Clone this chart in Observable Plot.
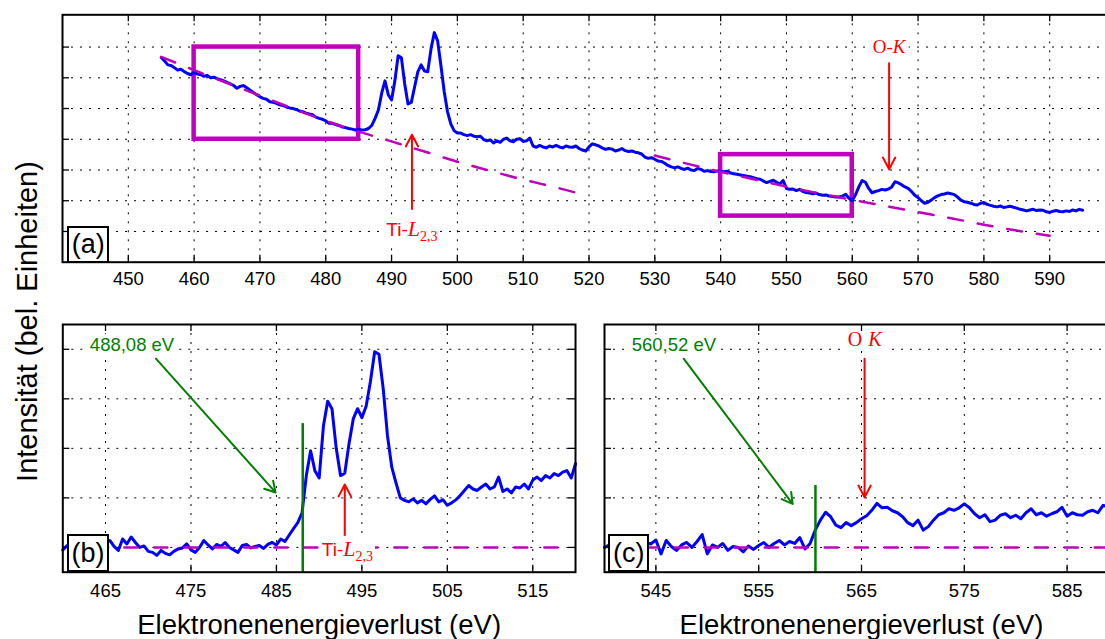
<!DOCTYPE html>
<html><head><meta charset="utf-8">
<script src="https://cdn.jsdelivr.net/npm/d3@7"></script>
<script src="https://cdn.jsdelivr.net/npm/@observablehq/plot@0.6"></script>
<style>
body{margin:0;background:#fff;}
#fig{position:relative;width:1105px;height:639px;overflow:hidden;background:#fff;font-family:"Liberation Sans",Arial,sans-serif;}
#fig svg{position:absolute;max-width:none !important;overflow:visible;background:transparent;}
.plabel{position:absolute;box-sizing:border-box;border:2px solid #000;background:#fff;display:flex;align-items:center;justify-content:center;font-size:27px;line-height:1;color:#000;}
</style>
</head><body><div id="fig"></div>
<script>
// ---------- data ----------
// Panel (a): full spectrum, 455..595 eV, step 0.5 eV
const aStart = 455, aStep = 0.5;
const aVals = [
  6.66,6.55,6.42,6.40,6.33,6.25,6.28,6.20,6.14,6.10, // 455
  6.18,6.12,6.10,6.05,6.08,6.00,6.02,5.97,5.94,5.90, // 460
  5.85,5.80,5.75,5.66,5.72,5.75,5.68,5.60,5.52,5.45, // 465
  5.38,5.33,5.30,5.22,5.20,5.17,5.12,5.10,5.05,5.02, // 470
  5.00,4.97,4.92,4.90,4.85,4.82,4.80,4.72,4.68,4.65, // 475
  4.60,4.52,4.52,4.48,4.45,4.40,4.38,4.35,4.33,4.30, // 480
  4.32,4.30,4.31,4.35,4.45,4.68,4.95,5.50,5.90,5.45, // 485
  5.28,5.90,6.72,6.65,5.80,5.15,5.20,5.70,6.20,6.42, // 490
  6.22,6.20,6.95,7.47,7.20,6.40,5.55,4.90,4.50,4.28, // 495
  4.20,4.20,4.15,4.12,4.15,4.10,4.08,4.10,3.99,3.95, // 500
  3.98,3.88,3.95,3.90,4.00,4.04,3.95,3.92,4.00,4.02, // 505
  3.93,3.95,4.04,3.78,3.74,3.80,3.75,3.72,3.78,3.75, // 510
  3.80,3.75,3.72,3.78,3.75,3.74,3.78,3.70,3.65,3.62, // 515
  3.75,3.85,3.82,3.78,3.72,3.67,3.70,3.68,3.62,3.65, // 520
  3.70,3.63,3.60,3.62,3.58,3.56,3.52,3.42,3.38,3.40, // 525
  3.35,3.29,3.28,3.22,3.15,3.10,3.07,3.10,3.05,3.02, // 530
  3.06,3.00,2.98,3.05,3.02,2.96,2.98,2.95,2.94,2.97, // 535
  2.96,2.94,2.96,2.90,2.88,2.86,2.84,2.82,2.80,2.78, // 540
  2.75,2.72,2.70,2.64,2.59,2.63,2.67,2.60,2.55,2.66, // 545
  2.40,2.37,2.38,2.33,2.37,2.30,2.27,2.25,2.23,2.25, // 550
  2.20,2.18,2.19,2.15,2.14,2.12,2.12,2.15,2.21,2.08, // 555
  2.00,2.20,2.45,2.66,2.60,2.40,2.26,2.30,2.33,2.37, // 560
  2.35,2.38,2.45,2.62,2.58,2.52,2.45,2.40,2.30,2.18, // 565
  2.10,2.00,1.92,1.95,2.02,2.10,2.16,2.20,2.22,2.25, // 570
  2.23,2.20,2.12,2.02,1.97,1.95,1.92,1.88,1.86,1.92, // 575
  1.94,1.88,1.85,1.82,1.80,1.83,1.78,1.80,1.82,1.79, // 580
  1.76,1.72,1.70,1.67,1.70,1.72,1.68,1.70,1.69,1.64, // 585
  1.62,1.66,1.68,1.65,1.64,1.67,1.65,1.70,1.67,1.72, // 590
  1.69                                               // 595
];
// Background fits in panel (a)
const bgTiE = [455,460,465,470,475,480,485,490,495,500,505,510,515,519];
const bgTiV = [6.68,6.25,5.83,5.42,5.00,4.60,4.25,3.93,3.60,3.27,2.97,2.69,2.43,2.21];
const bgOE = [530,535,540,545,550,555,560,565,570,575,580,585,590];
const bgOV = [3.47,3.20,2.94,2.70,2.46,2.24,2.03,1.83,1.63,1.43,1.22,1.03,0.86];
// Highlight windows in panel (a)
const boxE1 = [460, 540], boxE2 = [485, 560], boxV1 = [4, 1.5], boxV2 = [7, 3.5];

// Panel (b): background-subtracted Ti-L2,3, 460..520 eV step 0.5
const bStart = 460, bStep = 0.5;
const bVals = [
  -0.05,0.04,-0.03,0.02,0.06,-0.02,0.03,0.08,0.00,0.05, // 460
  0.10,0.14,0.02,-0.06,0.17,0.07,0.21,0.10,0.00,0.03,   // 465
  -0.08,-0.10,-0.16,-0.06,-0.12,-0.15,-0.08,-0.03,-0.01,0.07, // 470
  -0.05,-0.10,0.00,0.14,0.05,-0.03,0.06,0.02,0.10,0.00, // 475
  -0.05,-0.10,0.04,0.06,-0.01,0.02,0.04,-0.02,0.06,0.10, // 480
  0.05,0.17,0.12,0.25,0.38,0.50,0.70,1.45,1.95,1.55,    // 485
  1.40,2.45,2.95,2.80,2.00,1.45,1.50,2.10,2.60,2.80,    // 490
  2.62,2.85,3.35,3.95,3.90,3.20,2.25,1.62,1.30,1.00,    // 495
  0.95,0.92,0.98,0.90,0.95,0.88,0.97,1.04,0.92,0.96,    // 500
  0.85,0.90,0.96,1.05,1.15,1.25,1.18,1.15,1.22,1.28,    // 505
  1.18,1.22,1.42,1.13,1.18,1.10,1.22,1.20,1.28,1.18,    // 510
  1.36,1.42,1.35,1.45,1.40,1.49,1.45,1.52,1.55,1.40,    // 515
  1.69                                                  // 520
];
// Panel (c): background-subtracted O-K, 540..589 eV step 0.5
const cStart = 540, cStep = 0.5;
const cVals = [
  0.00,0.05,-0.04,0.06,0.02,-0.05,0.08,0.00,0.10,0.07,  // 540
  0.15,-0.13,0.14,0.02,-0.06,0.05,0.10,0.00,0.12,0.26,  // 545
  -0.13,0.05,0.00,0.08,-0.06,0.02,0.00,-0.09,0.03,-0.04, // 550
  0.04,0.10,0.00,0.08,0.14,0.05,0.12,0.08,0.20,-0.03,   // 555
  0.08,0.35,0.55,0.71,0.62,0.45,0.40,0.50,0.44,0.50,    // 560
  0.58,0.64,0.75,0.89,0.80,0.81,0.74,0.70,0.62,0.50,    // 565
  0.44,0.55,0.35,0.42,0.55,0.66,0.70,0.78,0.75,0.80,    // 570
  0.88,0.80,0.68,0.60,0.66,0.52,0.55,0.65,0.68,0.60,    // 575
  0.65,0.58,0.70,0.78,0.66,0.70,0.63,0.68,0.72,0.81,    // 580
  0.63,0.70,0.66,0.65,0.72,0.75,0.70,0.85,0.82          // 585
];
const bgBE = [467.2, 518.7], bgCE = [541, 590];
// Edge onsets
const onsetE = [488.08, 560.52];
const onsetTop = [2.5, 1.25];
const onsetLabels = ["488,08 eV", "560,52 eV"];

// Tick values
const aXTicks = [450,460,470,480,490,500,510,520,530,540,550,560,570,580,590];
const aYTicks = [1,2,3,4,5,6,7];
const bXTicks = [465,475,485,495,505,515];
const cXTicks = [545,555,565,575,585];
const bcYTicks = [0,1,2,3,4];

const xTitle = "Elektronenenergieverlust (eV)";
const yTitle = "Intensität (bel. Einheiten)";

// ---------- build ----------
const BLUE = "#0000ff", MAG = "#bf00bf", RED = "#ff0000", GREEN = "#008000";
const serif = "'Liberation Serif','Times New Roman',serif";
const LW = 3;
const series = (start, step, vals) => vals.map((v, i) => ({e: start + i * step, v}));
const pairs = (E, V) => E.map((e, i) => ({e, v: V[i]}));

const aData = series(aStart, aStep, aVals);
const bData = series(bStart, bStep, bVals);
const cData = series(cStart, cStep, cVals);
const bgTi = pairs(bgTiE, bgTiV), bgO = pairs(bgOE, bgOV);
const boxes = boxE1.map((e, i) => ({e1: e, e2: boxE2[i], v1: boxV1[i], v2: boxV2[i]}));

const fig = document.getElementById("fig");

function panel({xDomain, yDomain, xTicks, yTicks, width, height, ml, mr, mt, mb, tickPad, rightTicks, marks}) {
  const H = height - mt - mb, W = width - ml - mr;
  const grid = {stroke: "black", strokeOpacity: 1, strokeWidth: 1, strokeDasharray: "2,7"};
  return Plot.plot({
    width, height, marginLeft: ml, marginRight: mr, marginTop: mt, marginBottom: mb,
    x: {domain: xDomain, axis: null},
    y: {domain: yDomain, axis: null},
    style: {fontFamily: "'Liberation Sans',Arial,sans-serif", fontSize: "18px", color: "black", background: "transparent"},
    marks: [
      Plot.gridX(xTicks, {x: d => d, ...grid}),
      Plot.gridY(yTicks, {y: d => d, ...grid}),
      ...marks,
      Plot.tickX(xTicks, {x: d => d, insetTop: H - 7, stroke: "black", strokeWidth: 1.3}),
      Plot.tickX(xTicks, {x: d => d, insetBottom: H - 7, stroke: "black", strokeWidth: 1.3}),
      Plot.tickY(yTicks, {y: d => d, insetRight: W - 7, stroke: "black", strokeWidth: 1.3}),
      rightTicks ? Plot.tickY(yTicks, {y: d => d, insetLeft: W - 7, stroke: "black", strokeWidth: 1.3}) : null,
      Plot.axisX(xTicks, {x: d => d, anchor: "bottom", tickSize: 0, tickPadding: tickPad, fontSize: 18.5, label: null}),
      Plot.frame({stroke: "black", strokeWidth: 2})
    ]
  });
}

// Panel (a)
const pa = panel({
  xDomain: [440, 600], yDomain: [0, 8.05], xTicks: aXTicks, yTicks: aYTicks,
  width: 1115, height: 305, ml: 62, mr: 0, mt: 14.3, mb: 43.3, tickPad: 10, rightTicks: false,
  marks: [
    Plot.rect(boxes, {x1: "e1", x2: "e2", y1: "v1", y2: "v2", fill: "none", stroke: MAG, strokeWidth: 4.5}),
    Plot.line(aData, {x: "e", y: "v", stroke: BLUE, strokeWidth: LW}),
    Plot.line(bgTi, {x: "e", y: "v", stroke: MAG, strokeWidth: 2.5, strokeDasharray: "15,15", curve: "monotone-x"}),
    Plot.line(bgO, {x: "e", y: "v", stroke: MAG, strokeWidth: 2.5, strokeDasharray: "15,15", curve: "monotone-x"}),
    Plot.arrow([{x1: 493.1, y1: 1.73, x2: 493.1, y2: 4.15}, {x1: 565.6, y1: 6.47, x2: 565.6, y2: 3.02}],
      {x1: "x1", y1: "y1", x2: "x2", y2: "y2", stroke: RED, strokeWidth: 2, headLength: 10, headAngle: 55}),
    Plot.text([{e: 493.1, v: 0.86, t: "Ti-L_{2,3}"}, {e: 565.6, v: 6.82, t: "O-K"}],
      {x: "e", y: "v", text: "t", fill: RED, fontSize: 19, lineAnchor: "bottom"})
  ]
});
pa.style.left = "0px"; pa.style.top = "0px";
fig.appendChild(pa);

// Panel (b)
const pb = panel({
  xDomain: [460, 520], yDomain: [-0.5, 4.5], xTicks: bXTicks, yTicks: bcYTicks,
  width: 600, height: 329, ml: 62.3, mr: 25, mt: 14, mb: 67.3, tickPad: 12, rightTicks: true,
  marks: [
    Plot.line(bData, {x: "e", y: "v", stroke: BLUE, strokeWidth: LW}),
    Plot.line(bgBE.map(e => ({e, v: 0})), {x: "e", y: "v", stroke: MAG, strokeWidth: 2.5, strokeDasharray: "13,17"}),
    Plot.ruleX([{e: onsetE[0], top: onsetTop[0]}], {x: "e", y1: () => -0.5, y2: "top", stroke: GREEN, strokeWidth: 2.5}),
    Plot.arrow([{x1: 470.9, y1: 3.81, x2: 484.9, y2: 1.11}], {x1: "x1", y1: "y1", x2: "x2", y2: "y2", stroke: GREEN, strokeWidth: 2, headLength: 9, headAngle: 60}),
    Plot.arrow([{x1: 493.0, y1: 0.22, x2: 493.0, y2: 1.27}], {x1: "x1", y1: "y1", x2: "x2", y2: "y2", stroke: RED, strokeWidth: 2, headLength: 10, headAngle: 55}),
    Plot.text([{e: 468.1, v: 3.97, t: onsetLabels[0]}], {x: "e", y: "v", text: "t", fill: GREEN, fontSize: 18.5, lineAnchor: "bottom"}),
    Plot.text([{e: 493.3, v: -0.17, t: "Ti-L_{2,3} "}], {x: "e", y: "v", text: "t", fill: RED, fontSize: 19, lineAnchor: "bottom"}),
    Plot.text([xTitle], {frameAnchor: "bottom", dy: 61.3, lineAnchor: "bottom", fontSize: 27.5})
  ]
});
pb.style.left = "0px"; pb.style.top = "310px";
fig.appendChild(pb);

// Panel (c)
const pc = panel({
  xDomain: [540, 590], yDomain: [-0.5, 4.5], xTicks: cXTicks, yTicks: bcYTicks,
  width: 528, height: 329, ml: 14, mr: 0, mt: 14, mb: 67.3, tickPad: 12, rightTicks: false,
  marks: [
    Plot.line(cData, {x: "e", y: "v", stroke: BLUE, strokeWidth: LW}),
    Plot.line(bgCE.map(e => ({e, v: 0})), {x: "e", y: "v", stroke: MAG, strokeWidth: 2.5, strokeDasharray: "13,17"}),
    Plot.ruleX([{e: onsetE[1], top: onsetTop[1]}], {x: "e", y1: () => -0.5, y2: "top", stroke: GREEN, strokeWidth: 2.5}),
    Plot.arrow([{x1: 547.7, y1: 3.81, x2: 558.3, y2: 0.88}], {x1: "x1", y1: "y1", x2: "x2", y2: "y2", stroke: GREEN, strokeWidth: 2, headLength: 9, headAngle: 60}),
    Plot.arrow([{x1: 565.3, y1: 3.81, x2: 565.3, y2: 1.01}], {x1: "x1", y1: "y1", x2: "x2", y2: "y2", stroke: RED, strokeWidth: 2, headLength: 10, headAngle: 55}),
    Plot.text([{e: 546.75, v: 3.96, t: onsetLabels[1]}], {x: "e", y: "v", text: "t", fill: GREEN, fontSize: 18.5, lineAnchor: "bottom"}),
    Plot.text([{e: 565.3, v: 4.06, t: "O K"}], {x: "e", y: "v", text: "t", fill: RED, fontSize: 20, lineAnchor: "bottom"}),
    Plot.text([xTitle], {frameAnchor: "bottom", dy: 61.3, lineAnchor: "bottom", fontSize: 27.5})
  ]
});
pc.style.left = "590px"; pc.style.top = "310px";
fig.appendChild(pc);

// rich text (math italic + subscripts) and white label backgrounds
const NS = "http://www.w3.org/2000/svg";
const tiParts = [["Ti-", {}], ["L", {"font-family": serif, "font-style": "italic", "font-size": 22}], ["2,3", {"font-family": serif, "font-size": 14, "dy": 5}]];
const RICH = {
  "Ti-L_{2,3}": tiParts,
  "Ti-L_{2,3} ": tiParts,
  "O-K": [["O-", {"font-family": serif}], ["K", {"font-family": serif, "font-style": "italic"}]],
  "O K": [["O", {"font-family": serif}], ["K", {"font-family": serif, "font-style": "italic", "dx": 6}]]
};
const BG = new Set(["Ti-L_{2,3}", "Ti-L_{2,3} ", "O-K", "O K", ...onsetLabels]);
for (const svg of [pa, pb, pc]) {
  svg.querySelectorAll("text").forEach(t => {
    const s = t.textContent;
    const parts = RICH[s];
    if (parts) {
      t.textContent = "";
      for (const [str, attrs] of parts) {
        const ts = document.createElementNS(NS, "tspan");
        ts.textContent = str;
        for (const k in attrs) ts.setAttribute(k, attrs[k]);
        t.appendChild(ts);
      }
    }
    if (BG.has(s)) {
      const b = t.getBBox();
      const r = document.createElementNS(NS, "rect");
      r.setAttribute("x", b.x - 2); r.setAttribute("y", b.y);
      r.setAttribute("width", b.width + 4); r.setAttribute("height", b.height);
      r.setAttribute("fill", "white"); r.setAttribute("stroke", "none");
      const tr = t.getAttribute("transform");
      if (tr) r.setAttribute("transform", tr);
      t.parentNode.insertBefore(r, t);
    }
  });
}

// y-axis title
const ysvg = d3.create("svg").attr("width", 60).attr("height", 639).style("left", "0px").style("top", "0px");
ysvg.append("text").attr("transform", "translate(36.7,321.5) rotate(-90)")
  .attr("text-anchor", "middle").attr("font-family", "'Liberation Sans',Arial,sans-serif")
  .attr("font-size", 29).attr("fill", "black").text(yTitle);
fig.appendChild(ysvg.node());

// panel letters
for (const [txt, l, t, w, h] of [["(a)", 67.3, 226, 42, 37], ["(b)", 66.7, 534, 42.6, 38], ["(c)", 608.3, 534, 41, 38]]) {
  const d = document.createElement("div");
  d.className = "plabel";
  d.style.left = l + "px"; d.style.top = t + "px"; d.style.width = w + "px"; d.style.height = h + "px";
  d.textContent = txt;
  fig.appendChild(d);
}
</script></body></html>
